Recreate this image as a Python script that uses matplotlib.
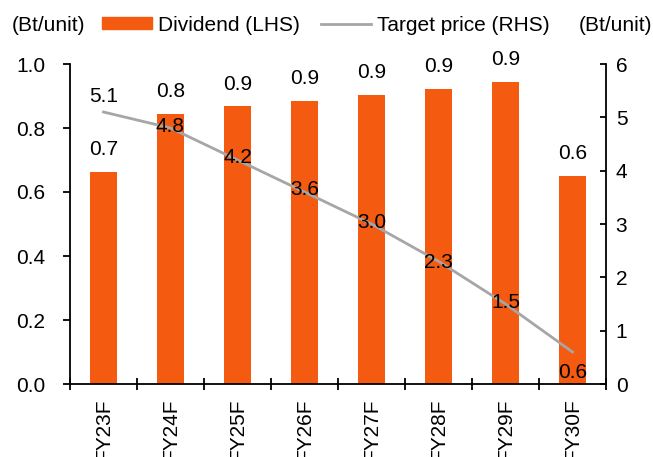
import numpy as np
import matplotlib.pyplot as plt
from matplotlib.patches import Rectangle
from matplotlib.lines import Line2D

plt.rcParams['font.family'] = ['Liberation Sans', 'DejaVu Sans']
plt.rcParams['font.size'] = 15

years = ['FY23F', 'FY24F', 'FY25F', 'FY26F', 'FY27F', 'FY28F', 'FY29F', 'FY30F']
dividend = [0.662, 0.844, 0.868, 0.884, 0.904, 0.922, 0.944, 0.650]
dividend_labels = ['0.7', '0.8', '0.9', '0.9', '0.9', '0.9', '0.9', '0.6']
target_price = [5.1, 4.8, 4.2, 3.6, 3.0, 2.3, 1.5, 0.6]
price_labels = ['5.1', '4.8', '4.2', '3.6', '3.0', '2.3', '1.5', '0.6']

orange = '#F45A10'
grey = '#A6A6A6'

fig = plt.figure(figsize=(6.53, 4.57), dpi=100)
ax = fig.add_axes([70 / 653, 1 - 384 / 457, 536 / 653, 320 / 457])
ax2 = ax.twinx()

x = np.arange(len(years))
ax.bar(x, dividend, width=0.4, color=orange, zorder=2)
for xi, v, lab in zip(x, dividend, dividend_labels):
    ax.annotate(lab, (xi, v), xytext=(0, 16), textcoords='offset points',
                ha='center', va='center')

ax2.plot(x, target_price, color=grey, linewidth=2, zorder=3)
# label offsets (points) to mimic the original placement
offsets = [(0, 11), (0, 1), (0, 2), (0, 2), (0, 1), (0, -1), (0, 1), (0, -15)]
for xi, v, lab, off in zip(x, target_price, price_labels, offsets):
    ax2.annotate(lab, (xi, v), xytext=off, textcoords='offset points',
                 ha='center', va='center', zorder=4)

ax.set_xlim(-0.5, len(years) - 0.5)
ax.set_ylim(0, 1.0)
ax2.set_ylim(0, 6)
ax.set_yticks(np.arange(0, 1.01, 0.2))
ax.set_yticklabels([f'{t:.1f}' for t in np.arange(0, 1.01, 0.2)])
ax2.set_yticks(range(0, 7))

ax.set_xticks(np.append(x - 0.5, len(years) - 0.5))
ax.set_xticklabels([])
ax.tick_params(axis='x', direction='inout', length=9, width=1.3)
ax.tick_params(axis='y', direction='out', length=5, width=1.3, pad=13)
ax2.tick_params(axis='y', direction='in', length=4, width=1.3, pad=7)

for xi, lab in zip(x, years):
    ax.text(xi, -0.045, lab, rotation=90, ha='center', va='top',
            transform=ax.get_xaxis_transform())

for a in (ax, ax2):
    a.spines['top'].set_visible(False)
    for s in ('left', 'right', 'bottom'):
        a.spines[s].set_linewidth(1.3)
ax.spines['right'].set_visible(False)
ax2.spines['left'].set_visible(False)
ax2.spines['bottom'].set_visible(False)

# unit labels and legend along the top
fig.text(12 / 653, 0.945, '(Bt/unit)', ha='left', va='center')
fig.text(652 / 653, 0.945, '(Bt/unit)', ha='right', va='center')
handles = [Rectangle((0, 0), 1, 1, color=orange),
           Line2D([], [], color=grey, linewidth=2)]
fig.legend(handles, ['Dividend (LHS)', 'Target price (RHS)'], loc='center left',
           bbox_to_anchor=(102 / 653, 0.945), ncol=2, frameon=False,
           borderpad=0, borderaxespad=0, handlelength=2.4, handleheight=0.5,
           handletextpad=0.3, columnspacing=1.0)

fig.savefig('out.png', dpi=100)
